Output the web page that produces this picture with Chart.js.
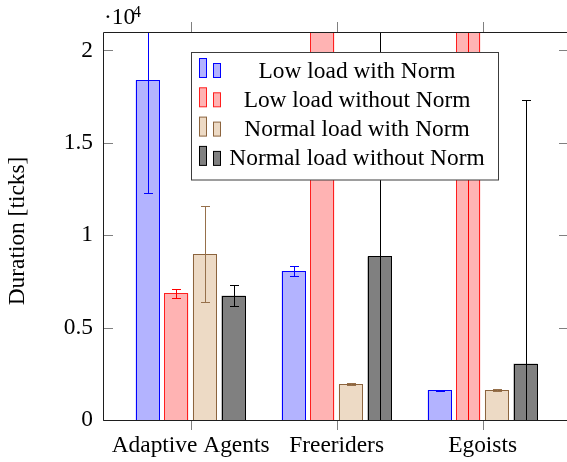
<!DOCTYPE html>
<html>
<head>
<meta charset="utf-8">
<script src="https://cdn.jsdelivr.net/npm/chart.js@4.4.1/dist/chart.umd.min.js"></script>
<style>
  html, body { margin: 0; padding: 0; background: #fff; overflow: hidden; }
  canvas { display: block; }
</style>
</head>
<body>
<canvas id="c" width="567" height="462"></canvas>
<script>
// ---- data (values in units of 10^4 ticks) ----
const categories = ['Adaptive Agents', 'Freeriders', 'Egoists'];
const seriesNames = ['Low load with Norm', 'Low load without Norm', 'Normal load with Norm', 'Normal load without Norm'];
const lowWithNorm = [1.839, 0.806, 0.161];
const lowWithNormErr = [0.61, 0.026, 0.004];
const lowWithoutNorm = [0.685, 3.2, 2.9];
const lowWithoutNormErr = [0.023, 0.5, 3.0];
const normalWithNorm = [0.898, 0.193, 0.161];
const normalWithNormErr = [0.259, 0.005, 0.006];
const normalWithoutNorm = [0.672, 0.885, 0.304];
const normalWithoutNormErr = [0.057, 1.5, 1.43];
const yTickValues = [0, 0.5, 1, 1.5, 2];
const yMax = 2.1;
const xMin = -0.6;
const xMax = 2.578;

const FONT = '"Liberation Serif", "DejaVu Serif", serif';
const FS = 23.4;

const styles = [
  { fill: 'rgb(179,179,255)', stroke: 'rgb(0,0,255)', err: 'rgb(0,0,255)' },
  { fill: 'rgb(255,179,179)', stroke: 'rgb(255,30,30)', err: 'rgb(255,0,0)' },
  { fill: 'rgb(237,218,197)', stroke: 'rgb(140,100,62)', err: 'rgb(150,112,75)' },
  { fill: 'rgb(128,128,128)', stroke: 'rgb(0,0,0)', err: 'rgb(0,0,0)' }
];
const seriesValues = [lowWithNorm, lowWithoutNorm, normalWithNorm, normalWithoutNorm];
const seriesErrors = [lowWithNormErr, lowWithoutNormErr, normalWithNormErr, normalWithoutNormErr];

const datasets = seriesValues.map((vals, s) => ({
  label: seriesNames[s],
  data: vals.map((v, i) => ({ x: i, y: v })),
  backgroundColor: styles[s].fill,
  borderWidth: 0,
  inflateAmount: 0,
  borderSkipped: false,
  categoryPercentage: 0.784,
  barPercentage: 0.84
}));

const decorPlugin = {
  id: 'decor',
  afterDatasetsDraw(chart) {
    const ctx = chart.ctx;
    const ys = chart.scales.y;
    const ca = chart.chartArea;
    ctx.save();
    ctx.beginPath();
    ctx.rect(ca.left, ca.top, ca.right - ca.left, ca.bottom - ca.top);
    ctx.clip();
    ctx.lineWidth = 1;
    chart.data.datasets.forEach((ds, s) => {
      const meta = chart.getDatasetMeta(s);
      ctx.strokeStyle = styles[s].stroke;
      meta.data.forEach((bar) => {
        const p = bar.getProps(['x', 'y', 'base', 'width'], true);
        const l = Math.round(p.x - p.width / 2) + 0.5;
        const r = Math.round(p.x + p.width / 2) - 0.5;
        const t = Math.round(Math.min(p.y, p.base)) + 0.5;
        const b = Math.round(Math.max(p.y, p.base)) + 0.5;
        ctx.strokeRect(l, t, r - l, b - t);
      });
    });
    chart.data.datasets.forEach((ds, s) => {
      const meta = chart.getDatasetMeta(s);
      meta.data.forEach((bar, i) => {
        const v = seriesValues[s][i], e = seriesErrors[s][i];
        const yt = Math.round(ys.getPixelForValue(v + e)) + 0.5;
        const yb = Math.round(ys.getPixelForValue(v - e)) + 0.5;
        const x = Math.round(bar.x) + 0.5;
        ctx.strokeStyle = styles[s].err;
        ctx.beginPath();
        ctx.moveTo(x, yt); ctx.lineTo(x, yb);
        ctx.moveTo(x - 4.5, yt); ctx.lineTo(x + 4.5, yt);
        ctx.moveTo(x - 4.5, yb); ctx.lineTo(x + 4.5, yb);
        ctx.stroke();
      });
    });
    ctx.restore();
  },
  afterDraw(chart) {
    const ctx = chart.ctx;
    const ca = chart.chartArea;
    const xs = chart.scales.x, ys = chart.scales.y;
    ctx.save();
    ctx.lineWidth = 1;
    ctx.strokeStyle = 'rgb(128,128,128)';
    ctx.beginPath();
    yTickValues.forEach(v => {
      const y = Math.round(ys.getPixelForValue(v)) + 0.5;
      ctx.moveTo(ca.left, y); ctx.lineTo(ca.left + 10, y);
      ctx.moveTo(ca.right - 8, y); ctx.lineTo(ca.right + 5, y);
    });
    categories.forEach((c, i) => {
      const x = Math.round(xs.getPixelForValue(i)) + 0.5;
      ctx.moveTo(x, ca.bottom); ctx.lineTo(x, ca.bottom + 10);
      ctx.moveTo(x, ca.top); ctx.lineTo(x, ca.top - 10);
    });
    ctx.stroke();
    // frame: top, left, bottom (the right side lies beyond the page)
    ctx.strokeStyle = 'rgb(30,30,30)';
    ctx.beginPath();
    ctx.moveTo(ca.right + 5, ca.top + 0.5);
    ctx.lineTo(ca.left + 0.5, ca.top + 0.5);
    ctx.lineTo(ca.left + 0.5, ca.bottom + 0.5);
    ctx.lineTo(ca.right + 5, ca.bottom + 0.5);
    ctx.stroke();

    // legend
    const lx = 191.5, ly = 52.5, lw = 307, lh = 127.5;
    ctx.fillStyle = '#fff';
    ctx.fillRect(lx, ly, lw, lh);
    ctx.strokeStyle = 'rgb(60,60,60)';
    ctx.strokeRect(lx, ly, lw, lh);
    ctx.font = FS + 'px ' + FONT;
    ctx.textAlign = 'center';
    ctx.textBaseline = 'alphabetic';
    const baselines = [77.5, 106.8, 136.1, 165.4];
    seriesNames.forEach((name, s) => {
      const b = baselines[s];
      ctx.fillStyle = styles[s].fill;
      ctx.strokeStyle = styles[s].stroke;
      ctx.fillRect(199.5, b - 19, 7, 19);
      ctx.strokeRect(199.5, b - 19, 7, 19);
      ctx.fillRect(213.5, b - 14, 7, 14);
      ctx.strokeRect(213.5, b - 14, 7, 14);
      ctx.fillStyle = '#000';
      ctx.fillText(name, 357, b);
    });

    // multiplier
    ctx.textAlign = 'left';
    ctx.fillStyle = '#000';
    ctx.font = FS + 'px ' + FONT;
    ctx.fillText('\u00B710', 104, 24);
    ctx.font = '16px ' + FONT;
    ctx.fillText('4', 133, 17);

    // y title
    ctx.font = FS + 'px ' + FONT;
    ctx.translate(18, 231);
    ctx.rotate(-Math.PI / 2);
    ctx.textAlign = 'center';
    ctx.textBaseline = 'middle';
    ctx.fillText('Duration [ticks]', 0, 0);
    ctx.restore();
  }
};

new Chart(document.getElementById('c'), {
  type: 'bar',
  data: { datasets },
  options: {
    responsive: false,
    animation: false,
    devicePixelRatio: 1,
    layout: { padding: { left: 0, top: 32, right: 0, bottom: 0 } },
    plugins: { legend: { display: false }, tooltip: { enabled: false } },
    scales: {
      x: {
        type: 'linear',
        min: xMin,
        max: xMax,
        offset: false,
        grid: { display: false, drawTicks: false },
        border: { display: false },
        afterBuildTicks: (s) => { s.ticks = categories.map((c, i) => ({ value: i })); },
        afterFit: (s) => { s.height = 42; s.paddingRight = 0; s.paddingLeft = 0; },
        ticks: {
          autoSkip: false,
          maxRotation: 0,
          minRotation: 0,
          padding: 12,
          color: '#000',
          font: { family: FONT, size: FS },
          callback: (v) => categories[v]
        }
      },
      y: {
        min: 0,
        max: yMax,
        grid: { display: false, drawTicks: false },
        border: { display: false },
        afterBuildTicks: (s) => { s.ticks = yTickValues.map(v => ({ value: v })); },
        afterFit: (s) => { s.width = 103; },
        ticks: {
          padding: 10,
          color: '#000',
          font: { family: FONT, size: FS },
          callback: (v) => String(v)
        }
      }
    }
  },
  plugins: [decorPlugin]
});
</script>
</body>
</html>
